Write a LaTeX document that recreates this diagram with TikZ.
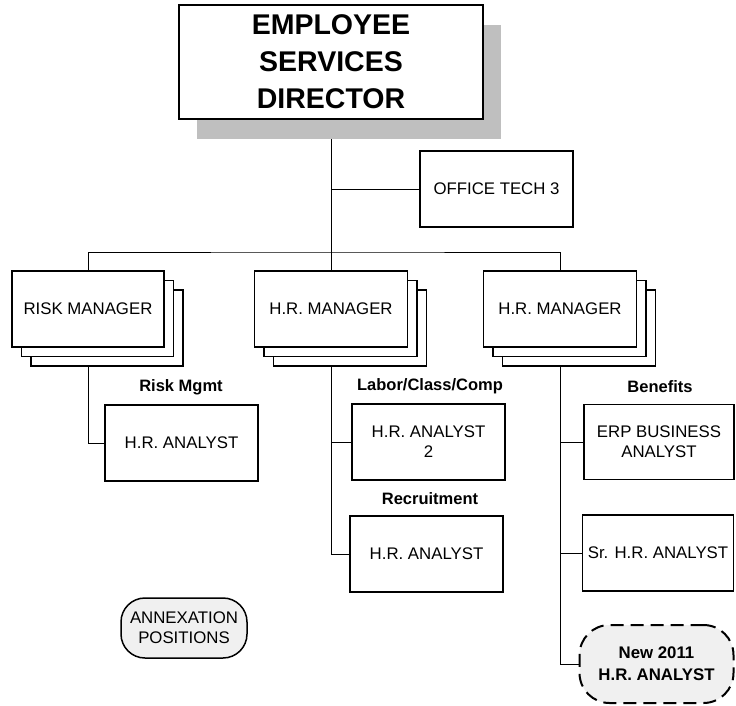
\documentclass[tikz,border=0pt]{standalone}
\usepackage{fontspec}
\setmainfont{Liberation Sans}
\usetikzlibrary{positioning,shadows,backgrounds}

\begin{document}
\begin{tikzpicture}[x=1pt, y=-1pt,
    box/.style={draw, fill=white, line width=1.8pt, minimum width=153pt, minimum height=76pt,
        inner sep=2pt, align=center, font=\fontsize{16.8}{20}\selectfont},
    mgr/.style={box,
        copy shadow={shadow xshift=19pt, shadow yshift=-19pt, draw, fill=white, line width=1.8pt},
        copy shadow={shadow xshift=9.5pt, shadow yshift=-9.5pt, draw, fill=white, line width=1.8pt}},
    oval/.style={draw, fill=black!6, rounded corners=24pt, align=center, inner sep=2pt},
    lbl/.style={font=\fontsize{16.5}{19}\selectfont\bfseries},
    wire/.style={line width=1pt}]
    \useasboundingbox (0,0) rectangle (736,706);

    % director with its grey shadow
    \node[draw, fill=white, line width=2pt, minimum width=304pt, minimum height=114pt,
          align=center, font=\fontsize{28.5}{37}\selectfont\bfseries,
          drop shadow={shadow xshift=18pt, shadow yshift=-20pt, fill=black!25, opacity=1}]
        (dir) at (331,62) {EMPLOYEE\\SERVICES\\DIRECTOR};
    \node[box] (tech) at (496.5,189) {OFFICE TECH 3};

    % managers (stacked boxes)
    \node[mgr, minimum width=152pt] (rm) at (88,309) {RISK MANAGER};
    \node[mgr] (hr2) at (331,309) {H.R. MANAGER};
    \node[mgr] (hr3) at (560,309) {H.R. MANAGER};

    % analysts
    \node[box] (ra) at (181.5,443) {H.R. ANALYST};
    \node[box] (an2) at (428.5,442) {H.R. ANALYST\\2};
    \node[box] (rec) at (426.5,554) {H.R. ANALYST};
    \node[box, minimum width=150pt, minimum height=75pt] (erp) at (659,442) {ERP BUSINESS\\ANALYST};
    \node[box, minimum width=151pt] (sra) at (658,553) {Sr. H.R. ANALYST};
    \node[oval, line width=2pt, dash pattern=on 13pt off 7pt, rounded corners=30pt,
          minimum width=154pt, minimum height=78pt,
          font=\fontsize{16.8}{22}\selectfont\bfseries] (new) at (656.5,664) {New 2011\\H.R. ANALYST};

    % group labels
    \node[lbl] (riskl) at (181,387) {Risk Mgmt};
    \node[lbl] (laborl) at (430,386) {Labor/Class/Comp};
    \node[lbl] (recl) at (430,499) {Recruitment};
    \node[lbl] (benl) at (660,387) {Benefits};

    % legend
    \node[oval, line width=1.5pt, minimum width=126pt, minimum height=60pt,
          font=\fontsize{16.8}{20}\selectfont] (annex) at (184,628) {ANNEXATION\\POSITIONS};

    % reporting lines
    \begin{scope}[on background layer]
        \coordinate (bus) at (331,252);
        \draw[wire] (dir) -- (hr2);
        \draw[wire] (tech.west) -- (tech.west -| dir.south);
        \draw[wire] (rm.north) |- (bus) -| (hr3.north);
        \draw[wire] (rm.south) |- (ra.west);
        \draw[wire] (hr2.south) |- (an2.west);
        \draw[wire] (hr2.south) |- (rec.west);
        \draw[wire] (hr3.south) |- (erp.west);
        \draw[wire] (hr3.south) |- (sra.west);
        \draw[wire] (hr3.south) |- (new.west);
    \end{scope}
\end{tikzpicture}
\end{document}
